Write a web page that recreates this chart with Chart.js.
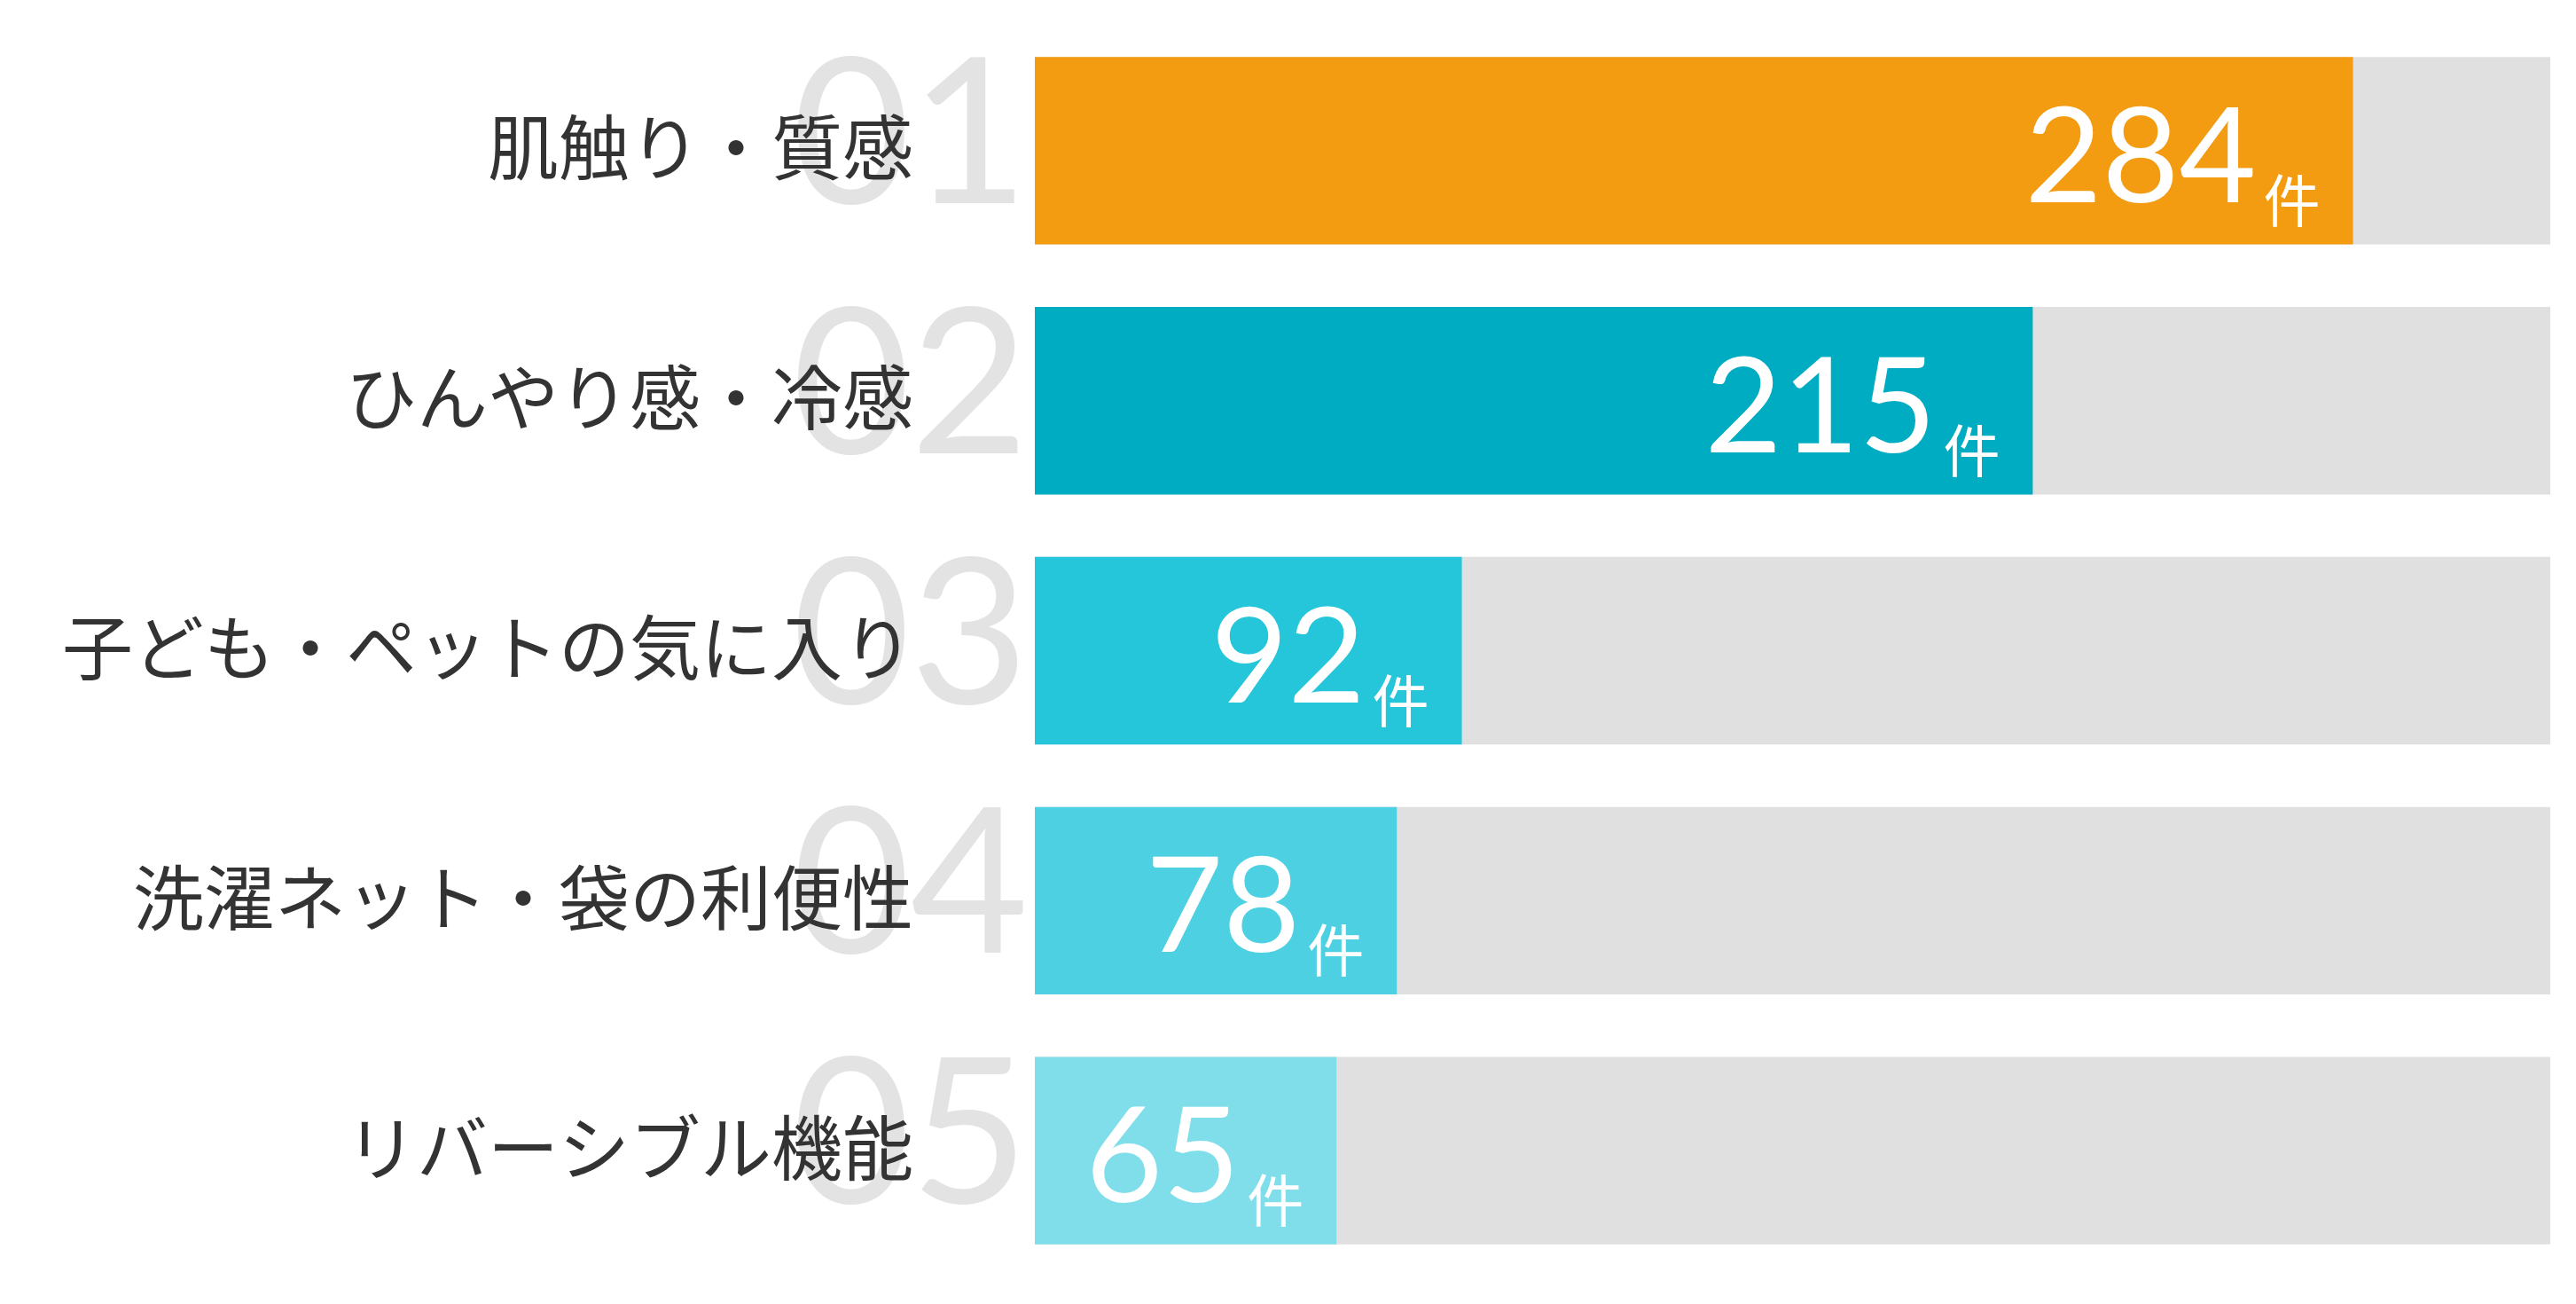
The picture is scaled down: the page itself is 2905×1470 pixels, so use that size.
<!DOCTYPE html>
<html>
<head>
<meta charset="utf-8">
<script src="https://cdn.jsdelivr.net/npm/chart.js@4"></script>
<style>
  html, body { margin: 0; padding: 0; background: #fff; }
  #wrap { width: 2905px; height: 1470px; }
</style>
</head>
<body>
<div id="wrap"><canvas id="chart"></canvas></div>
<script>
const categories = ['肌触り・質感', 'ひんやり感・冷感', '子ども・ペットの気に入り', '洗濯ネット・袋の利便性', 'リバーシブル機能'];
const ranks = ['01', '02', '03', '04', '05'];
const counts = [284, 215, 92, 78, 65];
const barColors = ['#F39C12', '#00ACC1', '#26C6DA', '#4DD0E1', '#80DEEA'];
const axisMax = 326.5;
const unit = '件';

// rank numbers behind, category labels on top of them
const labelPlugin = {
    id: 'labels',
    beforeDatasetsDraw(chart) {
        const ctx = chart.ctx;
        const y = chart.scales.y;
        ctx.save();
        ctx.textAlign = 'right';
        ctx.textBaseline = 'middle';
        ctx.fillStyle = '#E3E3E3';
        ctx.font = '230px Lato, "Noto Sans", sans-serif';
        ranks.forEach((r, i) => ctx.fillText(r, 1160, y.getPixelForValue(i) - 15));
        ctx.fillStyle = '#333';
        ctx.font = '80px "Noto Sans CJK JP", sans-serif';
        categories.forEach((c, i) => ctx.fillText(c, 1030, y.getPixelForValue(i) - 4));
        ctx.restore();
    }
};

const valuePlugin = {
    id: 'values',
    afterDatasetsDraw(chart) {
        const ctx = chart.ctx;
        const meta = chart.getDatasetMeta(1);
        ctx.save();
        ctx.fillStyle = '#fff';
        meta.data.forEach((bar, i) => {
            const right = bar.x - 37;
            ctx.font = '64px "Noto Sans CJK JP", sans-serif';
            ctx.textAlign = 'right';
            ctx.textBaseline = 'alphabetic';
            ctx.fillText(unit, right, bar.y + 80);
            const uw = ctx.measureText(unit).width;
            ctx.font = '150px Lato, "Noto Sans", sans-serif';
            ctx.fillText(String(counts[i]), right - uw - 8, bar.y + 58);
        });
        ctx.restore();
    }
};

new Chart(document.getElementById('chart'), {
    type: 'bar',
    data: {
        labels: categories,
        datasets: [
            {
                data: categories.map(() => axisMax),
                backgroundColor: '#E0E0E0',
                grouped: false,
                order: 2,
                barPercentage: 1,
                categoryPercentage: 0.75
            },
            {
                data: counts,
                backgroundColor: barColors,
                grouped: false,
                order: 1,
                barPercentage: 1,
                categoryPercentage: 0.75
            }
        ]
    },
    options: {
        indexAxis: 'y',
        responsive: true,
        maintainAspectRatio: false,
        animation: false,
        layout: { padding: { top: 29, bottom: 32, right: 29, left: 1167 } },
        plugins: { legend: { display: false }, tooltip: { enabled: false } },
        scales: {
            x: { display: false, min: 0, max: axisMax },
            y: { display: false }
        }
    },
    plugins: [labelPlugin, valuePlugin]
});
</script>
</body>
</html>
